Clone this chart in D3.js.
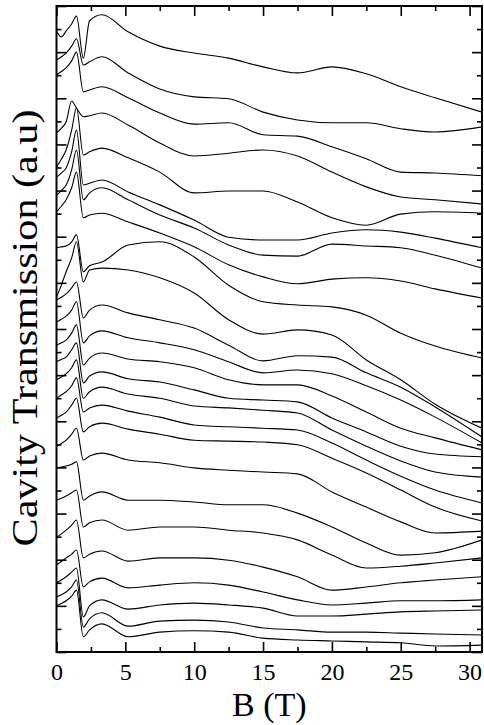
<!DOCTYPE html>
<html lang="en">
<head>
<meta charset="UTF-8">
<title>cavity transmission</title>
<script src="https://cdn.jsdelivr.net/npm/d3@7"></script>
<style>
    body { margin: 0; background: #fff; }
    svg text { font-family: "Liberation Serif", "Times New Roman", serif; fill: #000; }
    .trace { fill: none; stroke: #000; stroke-width: 1.1px; stroke-linejoin: round; }
    .tick line { stroke: #000; stroke-width: 1.6px; }
    .frame { fill: none; stroke: #000; stroke-width: 2px; }
</style>
</head>
<body>
<svg width="484" height="725"></svg>
<script>

    // magnetic field samples (T), shared by every sweep
    var fieldT = [0, 0.35, 0.7, 1.1, 1.45, 1.95, 2.4, 3.3, 5.2, 7.5, 10, 12.5, 15, 17.5, 20, 22.5, 25, 27.5, 30.9];

    // transmission sweeps (a.u., already offset), top to bottom
    var sweep01 = [13.46, 13.33, 13.46, 13.61, 13.78, 12.87, 13.68, 13.81, 13.44, 13.13, 12.98, 12.87, 12.68, 12.55, 12.68, 12.53, 12.25, 12.01, 11.70];
    var sweep02 = [12.83, 12.90, 12.98, 13.13, 13.29, 12.72, 12.79, 12.90, 12.55, 12.20, 12.03, 11.99, 11.70, 11.53, 11.47, 11.47, 11.34, 11.27, 11.38];
    var sweep03 = [12.51, 12.58, 12.66, 12.81, 13.00, 12.14, 12.18, 12.25, 12.01, 11.68, 11.44, 11.47, 11.21, 11.18, 10.95, 10.69, 10.40, 10.38, 10.32];
    var sweep04 = [11.25, 11.35, 11.49, 11.94, 11.79, 11.60, 11.62, 11.68, 11.42, 11.03, 10.75, 10.81, 10.88, 10.75, 10.40, 10.08, 9.86, 9.80, 9.71];
    var sweep05 = [10.51, 10.68, 10.88, 11.31, 11.79, 10.77, 10.84, 10.92, 10.71, 10.40, 9.95, 9.99, 9.99, 9.75, 9.41, 9.25, 9.49, 9.54, 9.51];
    var sweep06 = [10.29, 10.38, 10.49, 10.84, 11.31, 10.12, 10.16, 10.23, 9.97, 9.69, 9.36, 8.99, 8.93, 8.93, 9.08, 9.15, 9.10, 8.97, 8.76];
    var sweep07 = [9.90, 10.00, 10.12, 10.45, 10.88, 9.80, 9.95, 10.06, 9.80, 9.47, 9.19, 8.82, 8.60, 8.58, 8.84, 8.80, 8.76, 8.60, 8.32];
    var sweep08 = [9.54, 9.66, 9.80, 10.06, 10.40, 9.41, 9.47, 9.51, 9.32, 9.08, 8.78, 8.39, 8.13, 7.98, 8.08, 8.11, 8.04, 7.87, 7.67];
    var sweep09 = [8.76, 8.78, 8.80, 8.89, 9.04, 8.24, 8.37, 8.45, 8.82, 8.89, 8.56, 7.95, 7.59, 7.52, 7.48, 7.30, 6.91, 6.63, 6.37];
    var sweep10 = [7.69, 7.95, 8.24, 8.54, 8.89, 8.02, 8.28, 8.32, 8.28, 8.11, 7.78, 7.20, 6.89, 6.98, 6.87, 6.33, 5.90, 5.37, 4.85];
    var sweep11 = [7.63, 7.69, 7.76, 7.89, 8.02, 7.24, 7.41, 7.52, 7.35, 7.20, 7.02, 6.65, 6.31, 6.42, 6.39, 6.05, 5.74, 5.31, 4.66];
    var sweep12 = [7.15, 7.21, 7.28, 7.41, 7.59, 6.70, 6.85, 6.96, 6.81, 6.70, 6.55, 6.29, 6.05, 6.11, 6.03, 5.77, 5.46, 5.09, 4.53];
    var sweep13 = [6.65, 6.70, 6.76, 6.91, 7.09, 6.22, 6.37, 6.48, 6.35, 6.29, 6.16, 5.90, 5.79, 5.79, 5.55, 5.20, 4.85, 4.64, 4.38];
    var sweep14 = [6.29, 6.34, 6.39, 6.55, 6.70, 5.83, 5.98, 6.07, 5.92, 5.85, 5.68, 5.50, 5.46, 5.42, 5.07, 4.77, 4.46, 4.29, 4.23];
    var sweep15 = [5.90, 5.96, 6.03, 6.16, 6.33, 5.50, 5.64, 5.74, 5.59, 5.50, 5.33, 5.29, 5.24, 5.18, 4.81, 4.46, 4.14, 3.90, 3.79];
    var sweep16 = [5.50, 5.57, 5.64, 5.77, 5.94, 5.20, 5.29, 5.35, 5.22, 5.09, 4.92, 4.88, 4.85, 4.81, 4.53, 4.16, 3.81, 3.51, 3.23];
    var sweep17 = [5.07, 5.13, 5.20, 5.35, 5.50, 4.77, 4.88, 4.96, 4.83, 4.72, 4.59, 4.57, 4.55, 4.49, 4.20, 3.88, 3.51, 3.14, 2.84];
    var sweep18 = [4.46, 4.52, 4.59, 4.72, 4.85, 4.16, 4.25, 4.31, 4.16, 4.10, 3.99, 3.94, 3.90, 3.86, 3.47, 3.14, 2.82, 2.58, 2.62];
    var sweep19 = [3.99, 4.01, 4.03, 4.07, 4.12, 3.29, 3.38, 3.47, 3.29, 3.29, 3.25, 3.19, 3.19, 3.01, 2.71, 2.36, 2.10, 2.15, 2.43];
    var sweep20 = [3.29, 3.33, 3.38, 3.45, 3.51, 2.71, 2.80, 2.86, 2.64, 2.71, 2.71, 2.64, 2.58, 2.43, 2.10, 1.82, 1.86, 1.93, 2.04];
    var sweep21 = [2.49, 2.56, 2.64, 2.75, 2.86, 2.04, 2.12, 2.19, 1.97, 2.04, 2.04, 1.99, 1.84, 1.63, 1.34, 1.41, 1.50, 1.56, 1.63];
    var sweep22 = [1.89, 1.96, 2.04, 2.12, 2.21, 1.41, 1.52, 1.60, 1.39, 1.45, 1.50, 1.45, 1.30, 1.13, 1.02, 1.06, 1.11, 1.11, 1.13];
    var sweep23 = [1.50, 1.56, 1.63, 1.73, 1.82, 0.76, 1.00, 1.13, 0.93, 1.02, 1.06, 1.02, 0.95, 0.78, 0.78, 0.82, 0.87, 0.89, 0.91];
    var sweep24 = [1.19, 1.24, 1.30, 1.41, 1.56, 0.54, 0.72, 0.85, 0.56, 0.67, 0.69, 0.65, 0.52, 0.48, 0.43, 0.43, 0.41, 0.39, 0.37];
    var sweep25 = [1.00, 1.05, 1.11, 1.21, 1.34, 0.33, 0.48, 0.61, 0.33, 0.43, 0.46, 0.43, 0.30, 0.26, 0.24, 0.22, 0.20, 0.13, 0.15];

    var sweeps = [sweep01, sweep02, sweep03, sweep04, sweep05, sweep06, sweep07, sweep08, sweep09, sweep10,
        sweep11, sweep12, sweep13, sweep14, sweep15, sweep16, sweep17, sweep18, sweep19, sweep20,
        sweep21, sweep22, sweep23, sweep24, sweep25];

    var xMajor = [0, 5, 10, 15, 20, 25, 30];
    var xMinor = [2.5, 7.5, 12.5, 17.5, 22.5, 27.5];
    var yMajor = d3.range(0, 14.01, 1);
    var yMinor = d3.range(0.5, 14, 1);

    var svg = d3.select('svg');

    var plotLeft = 56.5, plotRight = 482, plotTop = 6, plotBottom = 652;

    var x = d3.scaleLinear().domain([0, 30.9]).range([plotLeft, plotRight]);
    var y = d3.scaleLinear().domain([0, 14]).range([plotBottom, plotTop]);

    svg.append('clipPath').attr('id', 'plot-clip')
        .append('rect')
        .attr('x', plotLeft).attr('y', plotTop)
        .attr('width', plotRight - plotLeft).attr('height', plotBottom - plotTop);

    var line = d3.line()
        .x(function (d, i) { return x(fieldT[i]); })
        .y(function (d) { return y(d); })
        .curve(d3.curveMonotoneX);

    svg.append('g')
        .attr('clip-path', 'url(#plot-clip)')
        .selectAll('path')
        .data(sweeps)
        .enter()
        .append('path')
        .attr('class', 'trace')
        .attr('d', line);

    function ticks(axis, values, size, transform) {
        var g = svg.append('g')
            .attr('transform', transform)
            .call(axis.tickValues(values).tickSize(-size).tickFormat(''));
        g.select('.domain').remove();
        return g;
    }

    // bottom axis with labels
    var xAxisG = svg.append('g')
        .attr('transform', 'translate(0,' + plotBottom + ')')
        .call(d3.axisBottom(x).tickValues(xMajor).tickSize(-10).tickPadding(11).tickFormat(d3.format('d')));
    xAxisG.select('.domain').remove();
    xAxisG.attr('font-size', null).attr('font-family', null);
    xAxisG.selectAll('text')
        .style('font-size', '24px')
        .attr('fill', '#000');

    ticks(d3.axisBottom(x), xMinor, 5, 'translate(0,' + plotBottom + ')');
    ticks(d3.axisTop(x), xMajor, 10, 'translate(0,' + plotTop + ')');
    ticks(d3.axisTop(x), xMinor, 5, 'translate(0,' + plotTop + ')');
    ticks(d3.axisLeft(y), yMajor, 10, 'translate(' + plotLeft + ',0)');
    ticks(d3.axisLeft(y), yMinor, 5, 'translate(' + plotLeft + ',0)');
    ticks(d3.axisRight(y), yMajor, 10, 'translate(' + plotRight + ',0)');
    ticks(d3.axisRight(y), yMinor, 5, 'translate(' + plotRight + ',0)');

    svg.append('rect')
        .attr('class', 'frame')
        .attr('x', plotLeft).attr('y', plotTop)
        .attr('width', plotRight - plotLeft).attr('height', plotBottom - plotTop);

    svg.append('text')
        .attr('x', (plotLeft + plotRight) / 2)
        .attr('y', 716)
        .attr('text-anchor', 'middle')
        .style('font-size', '34px')
        .text('B (T)');

    svg.append('text')
        .attr('transform', 'translate(37,328) rotate(-90)')
        .attr('text-anchor', 'middle')
        .attr('textLength', 437)
        .attr('lengthAdjust', 'spacingAndGlyphs')
        .style('font-size', '36px')
        .text('Cavity Transmission (a.u)');

</script>
</body>
</html>
